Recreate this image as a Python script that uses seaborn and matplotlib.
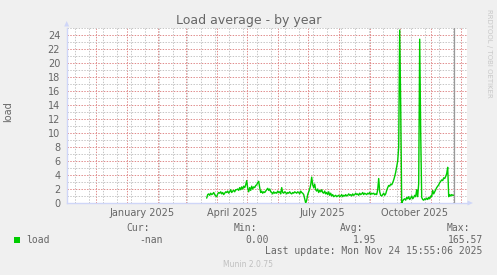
import numpy as np
import pandas as pd
import matplotlib
matplotlib.use("Agg")
import matplotlib.pyplot as plt
import matplotlib.dates as mdates
from matplotlib.ticker import MultipleLocator, FixedLocator, NullFormatter
from matplotlib.transforms import Affine2D
from matplotlib.patches import Rectangle, Polygon
import seaborn as sns

# ---------------- data ----------------
title = "Load average - by year"
y_label = "load"
series_name = "load"
series_start = "2025-03-22"          # first daily sample
load_values = [
    # Mar 22 ..
    0.7, 1.2, 1.3, 1.1, 1.4, 1.2, 1.3, 1.5, 1.2, 1.0,
    0.9, 1.3, 1.5, 1.4, 1.6, 1.3, 1.5, 1.2, 1.4, 1.6,
    1.5, 1.7, 1.4, 1.6, 1.9, 1.5, 1.7, 1.8, 1.6, 1.9,
    1.9, 2.0, 1.8, 2.2, 1.9, 2.3, 2.0, 2.4, 2.2, 2.6,
    3.2, 2.1, 1.6, 2.2, 1.8, 2.4, 2.0, 2.3, 2.2, 2.5,
    2.6, 2.9, 3.1, 2.2, 1.5, 1.7, 1.4, 1.6, 1.5, 1.7,
    1.9, 2.1, 1.8, 2.0, 1.6, 1.5, 1.3, 1.6, 1.4, 1.5,
    1.4, 1.7, 1.5, 1.6, 1.3, 2.2, 1.5, 1.4, 1.6, 1.5,
    1.3, 1.5, 1.4, 1.6, 1.4, 1.3, 1.5, 1.4, 1.6, 1.5,
    1.4, 1.6, 1.5, 1.3, 1.7, 1.5, 1.4, 1.2, 0.6, 0.0,
    0.4, 1.2, 1.6, 2.0, 2.6, 3.7, 2.6, 2.2, 2.7, 1.9,
    1.7, 2.0, 1.5, 1.8, 1.6, 1.9, 1.5, 1.4, 1.7, 1.3,
    1.5, 1.2, 1.6, 1.1, 1.4, 1.0, 1.2, 0.9, 1.0, 1.1,
    0.9, 1.0, 1.1, 0.9, 1.0, 1.2, 0.9, 1.1, 1.0, 1.2,
    1.0, 1.1, 1.3, 1.1, 1.2, 1.0, 1.3, 1.1, 1.2, 1.4,
    1.2, 1.3, 1.1, 1.4, 1.2, 1.3, 1.5, 1.2, 1.4, 1.3,
    1.2, 1.4, 1.3, 1.5, 1.2, 1.4, 1.3, 1.4, 1.2, 1.3,
    1.2, 1.9, 3.5, 1.6, 1.1, 1.0, 1.2, 1.4, 1.1, 1.3,
    1.8, 2.2, 2.5, 2.4, 2.7, 2.6, 2.9, 3.3, 3.8, 4.4,
    5.2, 6.0, 8.0, 24.7, 14.0, 0.0, 0.3, 0.5, 0.6, 0.4,
    0.8, 0.6, 0.9, 0.5, 0.7, 1.0, 0.6, 0.8, 1.1, 0.9,
    1.9, 0.9, 2.8, 23.4, 10.0, 0.8, 0.5, 0.4, 0.6, 0.5,
    0.7, 0.5, 0.8, 0.6, 1.0, 0.9, 1.8, 1.3, 1.6, 1.9,
    2.2, 2.4, 2.6, 2.9, 3.1, 3.3, 3.2, 3.6, 3.5, 3.8,
    4.2, 5.1, 0.9, 1.2, 1.0, 1.2, 1.1, 1.1,
]
month_labels = ["January 2025", "April 2025", "July 2025", "October 2025"]
month_label_dates = ["2025-01-16", "2025-04-16", "2025-07-16", "2025-10-16"]
stat_headers = ["Cur:", "Min:", "Avg:", "Max:"]
stat_values = ["-nan", "0.00", "1.95", "165.57"]
last_update = "2025-11-24 15:55:06"
last_update_text = "Last update: Mon Nov 24 15:55:06 2025"
footer_text = "Munin 2.0.75"
side_text = "RRDTOOL / TOBI OETIKER"

# ---------------- style ----------------
W, H = 497, 275
BACK = "#F0F0F0"
FONT = "#666666"
AXIS = "#CFD6F8"
MGRID = "#E08C8C"
GRID = "#C6C6C6"
LINE = "#00CC00"

sns.set_style("white")
plt.rcParams["font.family"] = ["DejaVu Sans"]

df = pd.DataFrame({
    "date": pd.date_range(series_start, periods=len(load_values), freq="D"),
    series_name: load_values,
})

fig = plt.figure(figsize=(W / 100, H / 100), dpi=100, facecolor=BACK)
# axes in pixel geometry: left 67, right 467, top 28, bottom 203
ax = fig.add_axes([67 / W, 1 - 203 / H, 400 / W, 175 / H])
ax.set_facecolor("white")
pix = Affine2D().scale(1 / W, -1 / H).translate(0, 1) + fig.transFigure

sns.lineplot(data=df, x="date", y=series_name, ax=ax, color=LINE,
             linewidth=1.0, zorder=3)

x0 = pd.Timestamp("2025-01-01") - pd.Timedelta(days=59.7)
x1 = x0 + pd.Timedelta(days=400)
ax.set_xlim(x0, x1)
ax.set_ylim(0, 25)

# grids
months = pd.date_range("2024-11-01", "2025-12-01", freq="MS")
weeks = pd.date_range("2024-10-27", "2025-12-31", freq="14D")
ax.xaxis.set_major_locator(FixedLocator(mdates.date2num(months)))
ax.xaxis.set_minor_locator(FixedLocator(mdates.date2num(weeks)))
ax.xaxis.set_major_formatter(NullFormatter())
ax.xaxis.set_minor_formatter(NullFormatter())
ax.yaxis.set_major_locator(MultipleLocator(2))
ax.yaxis.set_minor_locator(MultipleLocator(1))
ax.grid(which="major", color=MGRID, linewidth=0.72, linestyle=(0, (1.4, 1.4)))
ax.grid(which="minor", color=GRID, linewidth=0.72, linestyle=(0, (1.4, 1.4)))
ax.set_axisbelow(True)

ax.tick_params(axis="both", which="major", length=1.5, width=0.72,
               color=MGRID, direction="out")
ax.tick_params(axis="both", which="minor", length=1.5, width=0.72,
               color=GRID, direction="out")
ax.tick_params(axis="y", which="major", labelsize=7, labelcolor=FONT, pad=3.4)
ax.set_xlabel("")
ax.set_ylabel(y_label, fontsize=7, color=FONT)
ax.yaxis.set_label_coords((13 - 67) / 400, (203 - 112) / 175)

for s in ["top", "right"]:
    ax.spines[s].set_visible(False)
for s in ["left", "bottom"]:
    ax.spines[s].set_color(AXIS)
    ax.spines[s].set_linewidth(1.0)

# month labels on a secondary axis
sec = ax.secondary_xaxis("bottom")
sec.set_xticks(mdates.date2num(pd.to_datetime(month_label_dates)), month_labels)
sec.tick_params(length=0, labelsize=7, labelcolor=FONT, pad=3.6)
for s in sec.spines.values():
    s.set_visible(False)

# now line
ax.axvline(pd.Timestamp(last_update), color="#999999", linewidth=0.9, zorder=4)

# axis arrows
fig.add_artist(Polygon([(64.2, 26.5), (69.2, 26.5), (66.7, 21)], closed=True,
                       transform=pix, color=AXIS, lw=0))
fig.add_artist(Polygon([(467.5, 200.5), (467.5, 205.5), (473, 203)], closed=True,
                       transform=pix, color=AXIS, lw=0))

# title and side text
fig.text(248.5, 24, title, transform=pix, ha="center", va="baseline",
         fontsize=9, color=FONT)
fig.text(488.5, 53.5, side_text, transform=pix, ha="center", va="center",
         rotation=270, fontsize=5, color="#C8C8C8")

# legend
mono = "DejaVu Sans Mono"
fig.add_artist(Rectangle((14, 237), 6, 6, transform=pix, color=LINE, lw=0))
fig.text(26.7, 243, series_name, transform=pix, ha="left", va="baseline",
         fontsize=7, color=FONT, family=mono)
header_x = [126.7, 233.3, 340.0, 446.7]
value_x = [162.7, 269.3, 376.0, 482.7]
for hx, h in zip(header_x, stat_headers):
    fig.text(hx, 230.7, h, transform=pix, ha="left", va="baseline",
             fontsize=7, color=FONT, family=mono)
for vx, v in zip(value_x, stat_values):
    fig.text(vx, 243, v, transform=pix, ha="right", va="baseline",
             fontsize=7, color=FONT, family=mono)
fig.text(482.7, 254.3, last_update_text, transform=pix, ha="right",
         va="baseline", fontsize=7, color=FONT, family=mono)
fig.text(248, 266.7, footer_text, transform=pix, ha="center", va="baseline",
         fontsize=5.5, color="#C0C0C0")

fig.savefig("out.png", dpi=100, facecolor=BACK)
